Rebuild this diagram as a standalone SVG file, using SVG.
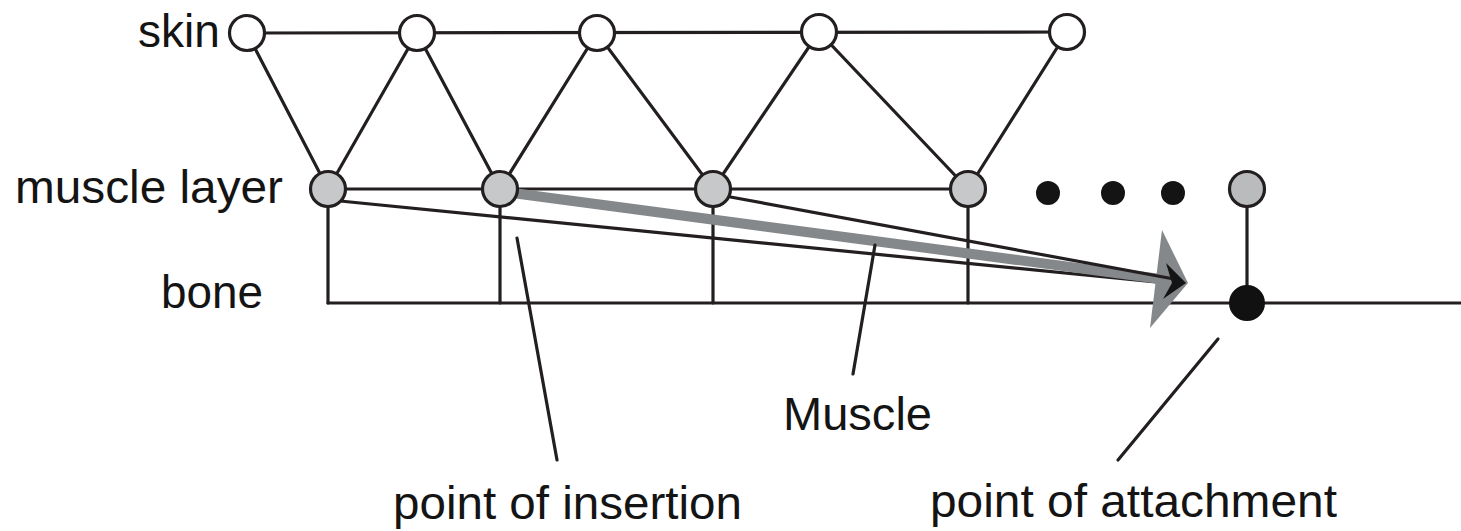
<svg xmlns="http://www.w3.org/2000/svg" width="1461" height="531" viewBox="0 0 1461 531">
  <style>
    .edge { stroke: #231f20; stroke-width: 3.2; fill: none; stroke-linecap: round; }
    .skin { fill: #ffffff; stroke: #231f20; stroke-width: 3.2; }
    .muscle { fill: #c6c8c9; stroke: #231f20; stroke-width: 3.2; }
    .dot { fill: #141414; }
    .label { font-family: "Liberation Sans", Arial, Helvetica, sans-serif; font-size: 46px; fill: #141414; }
  </style>
  <rect width="1461" height="531" fill="#ffffff"/>

  <!-- connectors: skin mesh, muscle layer, bone, muscle fibres, pointers -->
  <g id="connectors">
    <!-- skin row -->
    <line class="edge" x1="247" y1="33" x2="1067" y2="32"/>
    <!-- skin to muscle-layer zigzag -->
    <polyline class="edge" points="247,33 328,189 417,33 500,189 597,33 713,189 819,32 968,189 1067,32"/>
    <!-- muscle layer row -->
    <line class="edge" x1="328" y1="189" x2="968" y2="189"/>
    <!-- muscle layer to bone -->
    <line class="edge" x1="328" y1="189" x2="328" y2="303"/>
    <line class="edge" x1="500" y1="189" x2="500" y2="303"/>
    <line class="edge" x1="713" y1="189" x2="713" y2="303"/>
    <line class="edge" x1="968" y1="189" x2="968" y2="303"/>
    <line class="edge" x1="1247" y1="189" x2="1247" y2="303"/>
    <!-- bone -->
    <line class="edge" x1="328" y1="303" x2="1461" y2="303"/>

    <!-- muscle fibres converging on the attachment -->
    <line class="edge" x1="340" y1="201" x2="1176" y2="284"/>
    <line x1="505" y1="192" x2="1168" y2="280" stroke="#85888a" stroke-width="10"/>
    <polygon points="1162,230 1188,283 1150,328" fill="#85888a"/>
    <line class="edge" x1="725" y1="196" x2="1174" y2="279"/>
    <polygon points="1186,283 1166,263 1172,283 1163,299" fill="#141414"/>

    <!-- label pointers -->
    <line class="edge" x1="517" y1="238" x2="557" y2="460"/>
    <line class="edge" x1="875" y1="245" x2="853" y2="374"/>
    <line class="edge" x1="1218" y1="339" x2="1118" y2="460"/>
  </g>

  <!-- skin nodes -->
  <g id="skin-1"><circle class="skin" cx="247" cy="33" r="17.5"/></g>
  <g id="skin-2"><circle class="skin" cx="417" cy="33" r="17.5"/></g>
  <g id="skin-3"><circle class="skin" cx="597" cy="33" r="17.5"/></g>
  <g id="skin-4"><circle class="skin" cx="819" cy="32" r="17.5"/></g>
  <g id="skin-5"><circle class="skin" cx="1067" cy="32" r="17.5"/></g>

  <!-- muscle layer nodes -->
  <g id="muscle-1"><circle class="muscle" cx="328" cy="189" r="17.5"/></g>
  <g id="muscle-2"><circle class="muscle" cx="500" cy="189" r="17.5"/></g>
  <g id="muscle-3"><circle class="muscle" cx="713" cy="189" r="17.5"/></g>
  <g id="muscle-4"><circle class="muscle" cx="968" cy="189" r="17.5"/></g>
  <g id="muscle-5"><circle class="muscle" cx="1247" cy="189" r="17.5" style="fill:#b9bbbd"/></g>

  <!-- ellipsis -->
  <g id="ellipsis">
    <circle class="dot" cx="1048" cy="193" r="12"/>
    <circle class="dot" cx="1113" cy="193" r="12"/>
    <circle class="dot" cx="1173" cy="193" r="12"/>
  </g>

  <!-- attachment point on the bone -->
  <g id="attachment"><circle cx="1247" cy="303" r="17" fill="#111111" stroke="#111111" stroke-width="2"/></g>

  <!-- labels -->
  <g id="labels">
    <text class="label" x="138" y="47" textLength="82" lengthAdjust="spacingAndGlyphs">skin</text>
    <text class="label" x="15" y="203" textLength="268" lengthAdjust="spacingAndGlyphs">muscle layer</text>
    <text class="label" x="161" y="308" textLength="102" lengthAdjust="spacingAndGlyphs">bone</text>
    <text class="label" x="783" y="430" textLength="149" lengthAdjust="spacingAndGlyphs">Muscle</text>
    <text class="label" x="393" y="519" textLength="349" lengthAdjust="spacingAndGlyphs">point of insertion</text>
    <text class="label" x="930" y="517" textLength="407" lengthAdjust="spacingAndGlyphs">point of attachment</text>
  </g>
</svg>
